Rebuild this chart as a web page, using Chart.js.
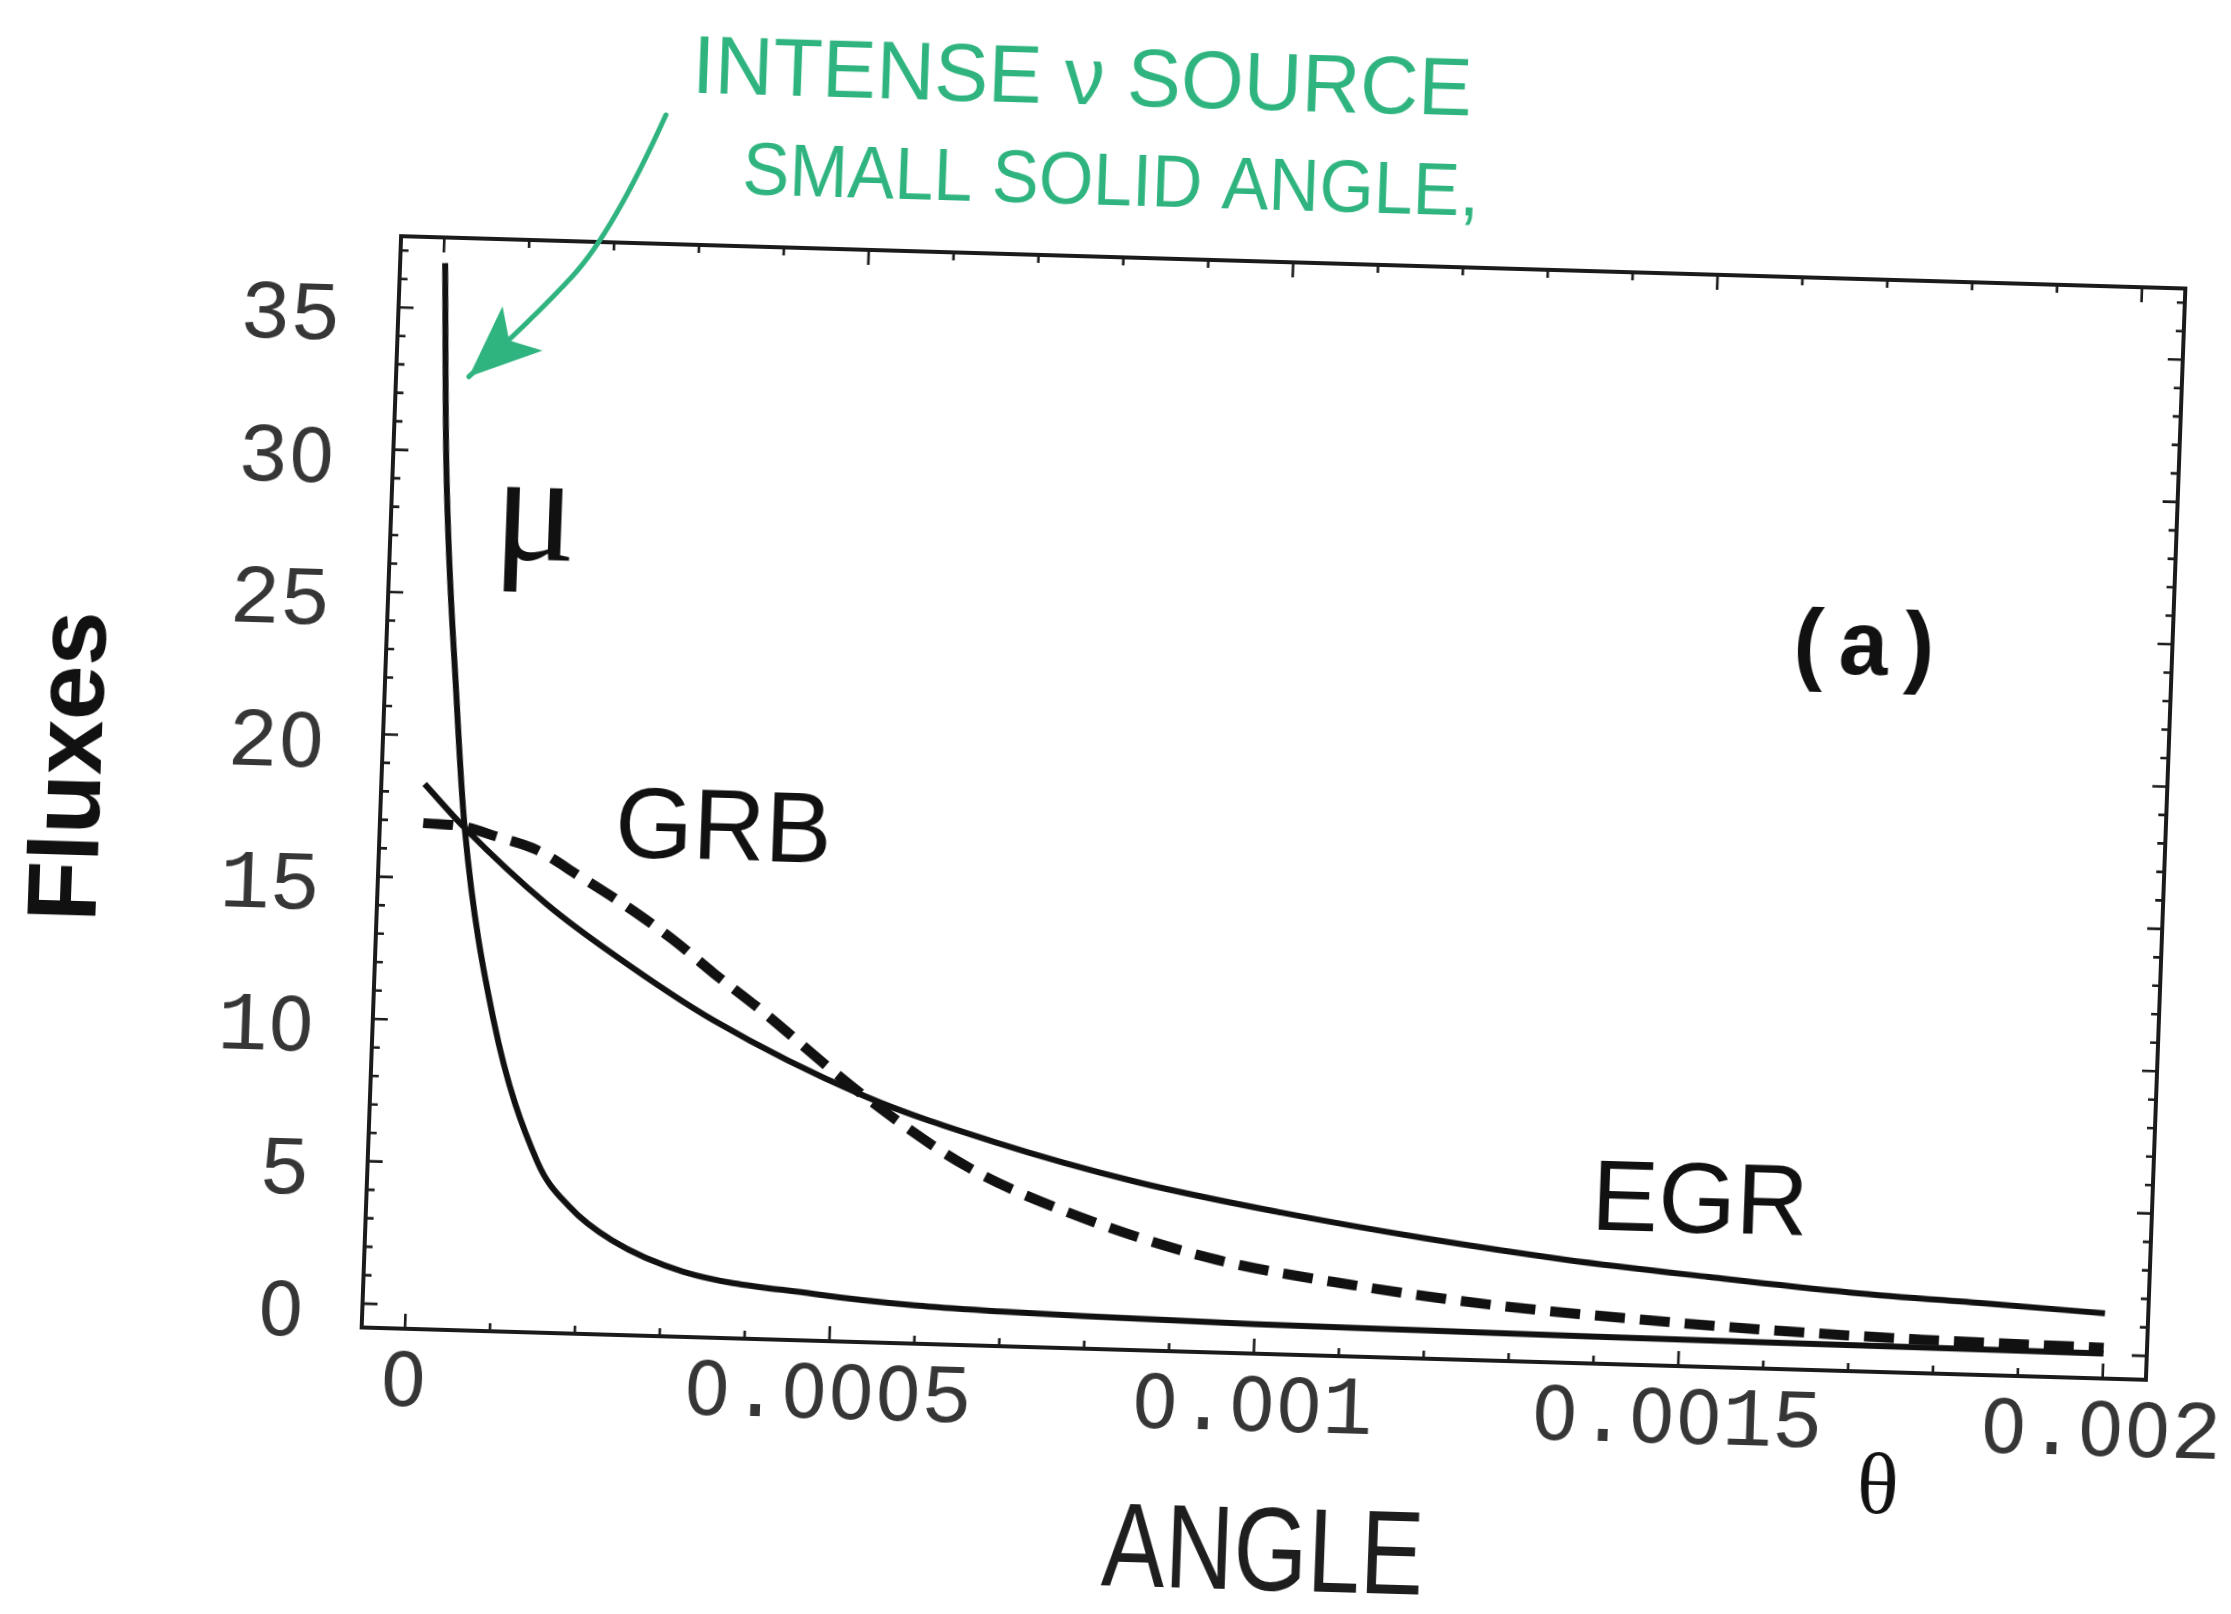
<!DOCTYPE html>
<html>
<head>
<meta charset="utf-8">
<script src="https://cdn.jsdelivr.net/npm/chart.js@4.4.1/dist/chart.umd.min.js"></script>
<style>
  /* Courier-like tick face: monospace digits with a plain (undotted) zero */
  @font-face { font-family: 'TickFace'; src: local('Liberation Mono'), local('LiberationMono-Regular'), local('LiberationMono'); }
  @font-face { font-family: 'TickFace'; src: local('DejaVu Sans'), local('DejaVuSans');
               unicode-range: U+0030; size-adjust: 88%; }
  html, body { margin: 0; padding: 0; background: #fff; overflow: hidden; width: 2231px; height: 1614px; }
  /* the printed page sits slightly skewed on the scanner bed */
  #sheet { position: absolute; left: 0; top: 0; width: 2400px; height: 1700px;
           transform-origin: 1273.5px 808px;
           transform: matrix(0.99957, 0.02932, -0.03612, 0.99935, 0, 0); }
  canvas { display: block; }
</style>
</head>
<body>
<div id="sheet"><canvas id="flux" width="2400" height="1700"></canvas></div>
<script>
// Flux versus angle θ (radians) for the three sources
const thetaMu = [0.000002, 0.000012, 0.000034, 0.000049, 0.000091, 0.000149, 0.000188, 0.00024,
                 0.000325, 0.00048, 0.0006, 0.0007, 0.0008, 0.001, 0.0012, 0.0014, 0.0016, 0.0018, 0.002];
const fluxMu  = [36.6, 29.5, 21.3, 16.8, 10.1, 5.14, 3.62, 2.47,
                 1.45, 0.80, 0.50, 0.38, 0.30, 0.20, 0.15, 0.11, 0.08, 0.06, 0.04];

const thetaEgr = [0, 0.000049, 0.000149, 0.00023, 0.00035, 0.00053, 0.000688, 0.000857,
                  0.001026, 0.001195, 0.001363, 0.001532, 0.0017, 0.001868, 0.002];
const fluxEgr  = [18.3, 16.8, 14.2, 12.5, 10.3, 7.81, 6.30, 5.05,
                  4.14, 3.39, 2.78, 2.32, 1.92, 1.66, 1.45];

const thetaGrb = [0, 0.000049, 0.0000867, 0.000134, 0.000187, 0.000243, 0.000299, 0.000348, 0.0004,
                  0.00053, 0.000655, 0.000775, 0.000944, 0.001113, 0.001281, 0.00145, 0.001618, 0.001786, 0.002];
const fluxGrb  = [16.93, 16.84, 16.53, 16.11, 15.21, 14.21, 13.09, 11.96, 10.83,
                  7.81, 5.42, 3.93, 2.47, 1.67, 1.11, 0.76, 0.50, 0.34, 0.24];

const xTickValues = [0, 0.0005, 0.001, 0.0015, 0.002];
const xTickLabels = ['0', '0.0005', '0.001', '0.0015', '0.002'];
const yTickValues = [0, 5, 10, 15, 20, 25, 30, 35];
const yTickLabels = ['0', '5', '10', '15', '20', '25', '30', '35'];

const curveNames = ['μ', 'GRB', 'EGR'];
const panelTag = '(a)';
const yTitle = 'Fluxes';
const xSymbol = 'θ';
const xNote = 'ANGLE';
const noteLines = ['INTENSE ν SOURCE', 'SMALL SOLID ANGLE,'];

function pairs(xs, ys) { return xs.map((v, i) => ({ x: v, y: ys[i] })); }

function fitText(ctx, text, cx, cy, width, font, color) {
  ctx.save();
  ctx.font = font;
  ctx.fillStyle = color;
  ctx.textAlign = 'center';
  ctx.textBaseline = 'middle';
  const w = ctx.measureText(text).width;
  ctx.translate(cx, cy);
  ctx.scale(width / w, 1);
  ctx.fillText(text, 0, 0);
  ctx.restore();
}

// Mathematica-style frame with inward ticks, curve labels and pen notes
const frameAndNotes = {
  id: 'frameAndNotes',
  afterDatasetsDraw(chart) {
    const { ctx, chartArea: a, scales: { x, y } } = chart;
    const px = v => x.getPixelForValue(v);
    const py = v => y.getPixelForValue(v);
    ctx.save();

    ctx.strokeStyle = '#1b1b1b';
    ctx.lineWidth = 4;
    ctx.strokeRect(a.left, a.top, a.right - a.left, a.bottom - a.top);

    ctx.lineWidth = 2.6;
    ctx.beginPath();
    for (let v = 0; v <= 37; v++) {
      const yy = py(v), len = v % 5 === 0 ? 15 : 8;
      ctx.moveTo(a.left, yy);  ctx.lineTo(a.left + len, yy);
      ctx.moveTo(a.right, yy); ctx.lineTo(a.right - len, yy);
    }
    for (let k = 0; k <= 20; k++) {
      const xx = px(k * 0.0001), len = k % 5 === 0 ? 15 : 8;
      ctx.moveTo(xx, a.bottom); ctx.lineTo(xx, a.bottom - len);
      ctx.moveTo(xx, a.top);    ctx.lineTo(xx, a.top + len);
    }
    ctx.stroke();

    // curve names
    ctx.fillStyle = '#111';
    ctx.textAlign = 'center';
    ctx.textBaseline = 'alphabetic';
    ctx.font = '155px "Liberation Serif", serif';
    ctx.fillText(curveNames[0], px(0.000119), py(26.3));
    ctx.font = '100px "Liberation Sans", Arial, sans-serif';
    ctx.fillText(curveNames[1], px(0.0003537), py(15.94));
    ctx.fillText(curveNames[2], px(0.0015185), py(3.86));

    ctx.textBaseline = 'middle';
    ctx.font = 'bold 90px "Liberation Mono", monospace';
    ctx.fillText(panelTag, px(0.001688), py(24.42));

    ctx.font = '87px "Liberation Serif", serif';
    ctx.fillText(xSymbol, px(0.00174), py(-4.98));

    // y axis title
    ctx.save();
    ctx.translate(a.left - 281, py(18.56));
    ctx.rotate(-Math.PI / 2);
    ctx.textBaseline = 'alphabetic';
    ctx.font = 'bold 98px "Liberation Sans", Arial, sans-serif';
    ctx.fillText(yTitle, 0, 0);
    ctx.restore();

    // handwritten notes
    fitText(ctx, xNote, px(0.001019), py(-8.0), 322, '300 118px "Liberation Sans", sans-serif', '#1e1e1e');
    const green = '#2fb47f';
    fitText(ctx, noteLines[0], px(0.000744), py(43.62), 780, '82px "Liberation Sans", sans-serif', green);
    fitText(ctx, noteLines[1], px(0.000782), py(40.03), 737, '74px "Liberation Sans", sans-serif', green);

    // arrow pointing at the μ peak
    const p1 = [px(0.0002555), py(42.03)], p2 = [px(0.0001979), py(37.84)];
    const p3 = [px(0.0001066), py(34.70)], tip = [px(0.0000347), py(32.64)];
    ctx.strokeStyle = green;
    ctx.fillStyle = green;
    ctx.lineWidth = 5;
    ctx.lineCap = 'round';
    ctx.beginPath();
    ctx.moveTo(p1[0], p1[1]);
    ctx.quadraticCurveTo(p2[0], p2[1], (p2[0] + p3[0]) / 2, (p2[1] + p3[1]) / 2);
    ctx.quadraticCurveTo(p3[0], p3[1], tip[0], tip[1]);
    ctx.stroke();
    const dx = tip[0] - p3[0], dy = tip[1] - p3[1], d = Math.hypot(dx, dy);
    const ux = dx / d, uy = dy / d, L = 72, W = 30;
    ctx.beginPath();
    ctx.moveTo(tip[0], tip[1]);
    ctx.lineTo(tip[0] - ux * L - uy * W, tip[1] - uy * L + ux * W);
    ctx.lineTo(tip[0] - ux * L * 0.75, tip[1] - uy * L * 0.75);
    ctx.lineTo(tip[0] - ux * L + uy * W, tip[1] - uy * L - ux * W);
    ctx.closePath();
    ctx.fill();

    ctx.restore();
  }
};

const tickFont = { family: 'TickFace, "Liberation Mono", monospace', size: 84 };

const chart = new Chart(document.getElementById('flux'), {
  type: 'line',
  data: {
    datasets: [
      { label: curveNames[0], data: pairs(thetaMu, fluxMu), borderColor: '#111', borderWidth: 6,
        pointRadius: 0, cubicInterpolationMode: 'monotone', fill: false },
      { label: curveNames[2], data: pairs(thetaEgr, fluxEgr), borderColor: '#111', borderWidth: 6,
        pointRadius: 0, cubicInterpolationMode: 'monotone', fill: false },
      { label: curveNames[1], data: pairs(thetaGrb, fluxGrb), borderColor: '#111', borderWidth: 10,
        borderDash: [30, 15], pointRadius: 0, cubicInterpolationMode: 'monotone', fill: false }
    ]
  },
  options: {
    responsive: false,
    animation: false,
    devicePixelRatio: 1,
    layout: { padding: { left: 141, right: 234, top: 262, bottom: 146 } },
    plugins: { legend: { display: false }, tooltip: { enabled: false } },
    scales: {
      x: {
        type: 'linear', min: -0.000051, max: 0.002051,
        afterFit(s) { s.height = 200; s.paddingLeft = 0; s.paddingRight = 0; },
        grid: { display: false, drawTicks: false }, border: { display: false },
        ticks: {
          stepSize: 0.0005, includeBounds: false, autoSkip: false, maxRotation: 0,
          padding: 4, font: tickFont, color: '#363636',
          callback: v => { const i = xTickValues.findIndex(t => Math.abs(t - v) < 1e-9); return i < 0 ? '' : xTickLabels[i]; }
        }
      },
      y: {
        type: 'linear', min: -0.84, max: 37.5,
        afterFit(s) { s.width = 240; s.paddingTop = 0; s.paddingBottom = 0; },
        grid: { display: false, drawTicks: false }, border: { display: false },
        ticks: {
          stepSize: 5, includeBounds: false, autoSkip: false,
          padding: 58, labelOffset: 12, font: tickFont, color: '#363636',
          callback: v => { const i = yTickValues.indexOf(Math.round(v)); return i < 0 ? '' : yTickLabels[i]; }
        }
      }
    }
  },
  plugins: [frameAndNotes]
});

if (document.fonts && document.fonts.load) {
  document.fonts.load('84px TickFace', '0123456789.').then(() => chart.update()).catch(() => {});
}
</script>
</body>
</html>
